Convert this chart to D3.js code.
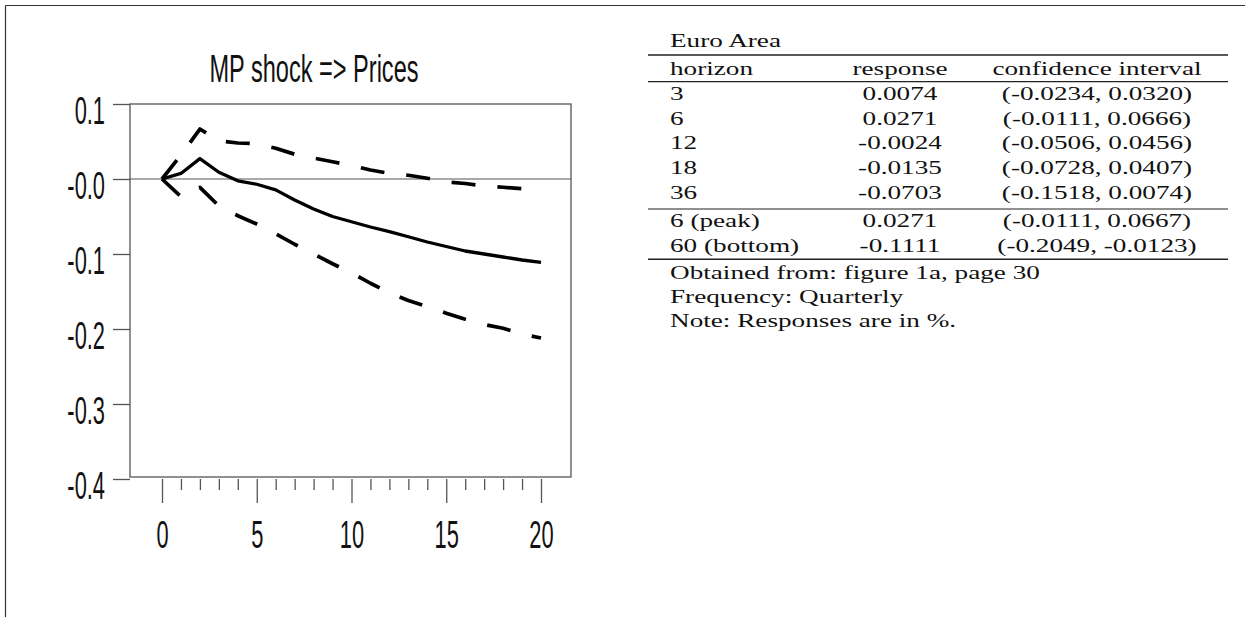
<!DOCTYPE html>
<html>
<head>
<meta charset="utf-8">
<script src="https://cdn.jsdelivr.net/npm/d3@7"></script>
<style>
  html, body { margin: 0; padding: 0; background: #fff; }
  svg { display: block; }
</style>
</head>
<body>
<svg id="chart" width="1245" height="617"></svg>
<script>
// ---------------- data ----------------
const horizons = [0, 1, 2, 3, 4, 5, 6, 7, 8, 9, 10, 11, 12, 13, 14, 15, 16, 17, 18, 19, 20];
const response = [0, 0.0074, 0.0271, 0.009, -0.0024, -0.007, -0.0145, -0.028, -0.040, -0.050, -0.057,
                  -0.064, -0.0703, -0.077, -0.084, -0.090, -0.096, -0.100, -0.104, -0.108, -0.1111];
const upperBand = [0, 0.032, 0.0666, 0.051, 0.048, 0.047, 0.041, 0.033, 0.028, 0.023, 0.018,
                   0.012, 0.0074, 0.005, 0.001, -0.004, -0.006, -0.0095, -0.011, -0.013, -0.0145];
const lowerBand = [0, -0.0234, -0.0111, -0.036, -0.049, -0.060, -0.073, -0.087, -0.100, -0.113, -0.125,
                   -0.139, -0.1518, -0.162, -0.170, -0.179, -0.187, -0.194, -0.199, -0.207, -0.212];
const yTickValues = [0.1, 0, -0.1, -0.2, -0.3, -0.4];
const yTickLabels = ["0.1", "-0.0", "-0.1", "-0.2", "-0.3", "-0.4"];
const xMajorTicks = [0, 5, 10, 15, 20];
const xTickLabels = ["0", "5", "10", "15", "20"];
const chartTitle = "MP shock => Prices";

const tableTitle = "Euro Area";
const tableHeader = ["horizon", "response", "confidence interval"];
const rowHorizons = ["3", "6", "12", "18", "36"];
const rowResponses = ["0.0074", "0.0271", "-0.0024", "-0.0135", "-0.0703"];
const rowIntervals = ["(-0.0234, 0.0320)", "(-0.0111, 0.0666)", "(-0.0506, 0.0456)", "(-0.0728, 0.0407)", "(-0.1518, 0.0074)"];
const extHorizons = ["6 (peak)", "60 (bottom)"];
const extResponses = ["0.0271", "-0.1111"];
const extIntervals = ["(-0.0111, 0.0667)", "(-0.2049, -0.0123)"];
const notes = ["Obtained from: figure 1a, page 30", "Frequency: Quarterly", "Note: Responses are in %."];

// ---------------- drawing ----------------
const svg = d3.select("#chart");
svg.append("rect").attr("width", 1245).attr("height", 617).attr("fill", "#fff");

// outer border (top + left)
svg.append("line").attr("x1", 5.5).attr("x2", 1245).attr("y1", 5.5).attr("y2", 5.5)
  .attr("stroke", "#333").attr("stroke-width", 1.2);
svg.append("line").attr("x1", 5.5).attr("x2", 5.5).attr("y1", 5.5).attr("y2", 617)
  .attr("stroke", "#333").attr("stroke-width", 1.2);

const x = d3.scaleLinear().domain([0, 20]).range([162, 541]);
const y = d3.scaleLinear().domain([0.1, -0.4]).range([104, 479]);

const frame = { left: 130, right: 571, top: 104, bottom: 477 };
const axisColor = "#555";
const labelFont = "'Liberation Sans', Arial, sans-serif";

// title
svg.append("text")
  .attr("transform", "translate(314,82) scale(0.62,1)")
  .attr("text-anchor", "middle")
  .attr("font-family", labelFont)
  .attr("font-size", 38)
  .attr("fill", "#111")
  .text(chartTitle);

// frame
svg.append("rect")
  .attr("x", frame.left).attr("y", frame.top)
  .attr("width", frame.right - frame.left).attr("height", frame.bottom - frame.top)
  .attr("fill", "none").attr("stroke", axisColor).attr("stroke-width", 1.3);

// zero line
svg.append("line")
  .attr("x1", frame.left).attr("x2", frame.right)
  .attr("y1", y(0)).attr("y2", y(0))
  .attr("stroke", axisColor).attr("stroke-width", 1.2);

// y axis
const yAxis = d3.axisLeft(y).tickValues(yTickValues).tickSize(17)
  .tickFormat((d, i) => yTickLabels[i]);
const gy = svg.append("g").attr("transform", `translate(${frame.left},0)`).call(yAxis);
gy.select(".domain").remove();
gy.selectAll(".tick line").attr("stroke", axisColor).attr("stroke-width", 1.3);
gy.selectAll(".tick text")
  .attr("x", null).attr("dy", null).attr("y", null)
  .attr("transform", "translate(-25,19) scale(0.56,1)")
  .attr("text-anchor", "end")
  .attr("font-family", labelFont)
  .attr("font-size", 39)
  .attr("fill", "#111");

// x axis: minor ticks
const xMinor = d3.axisBottom(x).tickValues(horizons.filter(h => !xMajorTicks.includes(h)))
  .tickSize(11).tickFormat("");
const gxm = svg.append("g").attr("transform", "translate(0,479)").call(xMinor);
gxm.select(".domain").remove();
gxm.selectAll(".tick line").attr("stroke", axisColor).attr("stroke-width", 1.3);

// x axis: major ticks
const xMajor = d3.axisBottom(x).tickValues(xMajorTicks).tickSize(24)
  .tickFormat((d, i) => xTickLabels[i]);
const gx = svg.append("g").attr("transform", "translate(0,479)").call(xMajor);
gx.select(".domain").remove();
gx.selectAll(".tick line").attr("stroke", axisColor).attr("stroke-width", 1.3);
gx.selectAll(".tick text")
  .attr("y", null).attr("dy", null)
  .attr("transform", "translate(0,69) scale(0.56,1)")
  .attr("text-anchor", "middle")
  .attr("font-family", labelFont)
  .attr("font-size", 39)
  .attr("fill", "#111");

// lines
const lineGen = d3.line().x((d, i) => x(horizons[i])).y(d => y(d));
svg.append("path").datum(upperBand).attr("d", lineGen)
  .attr("fill", "none").attr("stroke", "#000").attr("stroke-width", 3.7)
  .attr("stroke-dasharray", "24,22").attr("stroke-linejoin", "round");
svg.append("path").datum(lowerBand).attr("d", lineGen)
  .attr("fill", "none").attr("stroke", "#000").attr("stroke-width", 3.7)
  .attr("stroke-dasharray", "24,22").attr("stroke-linejoin", "round");
svg.append("path").datum(response).attr("d", lineGen)
  .attr("fill", "none").attr("stroke", "#000").attr("stroke-width", 3.3)
  .attr("stroke-linejoin", "round");

// ---------------- table ----------------
const tFont = "'Liberation Serif', 'Times New Roman', serif";
const tSize = 18.5;
const sx = 1.47;
const tbl = { left: 648, right: 1228, textLeft: 670, colResp: 900, colCI: 1097 };

function ttext(str, px, py, anchor) {
  svg.append("text")
    .attr("transform", `translate(${px},${py}) scale(${sx},1)`)
    .attr("text-anchor", anchor)
    .attr("font-family", tFont)
    .attr("font-size", tSize)
    .attr("fill", "#111")
    .text(str);
}
function rule(py, w) {
  svg.append("line").attr("x1", tbl.left).attr("x2", tbl.right)
    .attr("y1", py).attr("y2", py).attr("stroke", "#222").attr("stroke-width", w);
}

ttext(tableTitle, tbl.textLeft, 47.3, "start");
rule(55, 1.6);
ttext(tableHeader[0], tbl.textLeft, 74.5, "start");
ttext(tableHeader[1], tbl.colResp, 74.5, "middle");
ttext(tableHeader[2], tbl.colCI, 74.5, "middle");
rule(81.7, 1.3);

const rowY = [100, 124.8, 149.4, 174, 199];
rowHorizons.forEach((h, i) => {
  ttext(h, tbl.textLeft, rowY[i], "start");
  ttext(rowResponses[i], tbl.colResp, rowY[i], "middle");
  ttext(rowIntervals[i], tbl.colCI, rowY[i], "middle");
});
rule(209, 1.1);
const extY = [227.3, 252];
extHorizons.forEach((h, i) => {
  ttext(h, tbl.textLeft, extY[i], "start");
  ttext(extResponses[i], tbl.colResp, extY[i], "middle");
  ttext(extIntervals[i], tbl.colCI, extY[i], "middle");
});
rule(259.3, 1.6);
const noteY = [278.5, 302.8, 326.8];
notes.forEach((n, i) => ttext(n, tbl.textLeft, noteY[i], "start"));
</script>
</body>
</html>
